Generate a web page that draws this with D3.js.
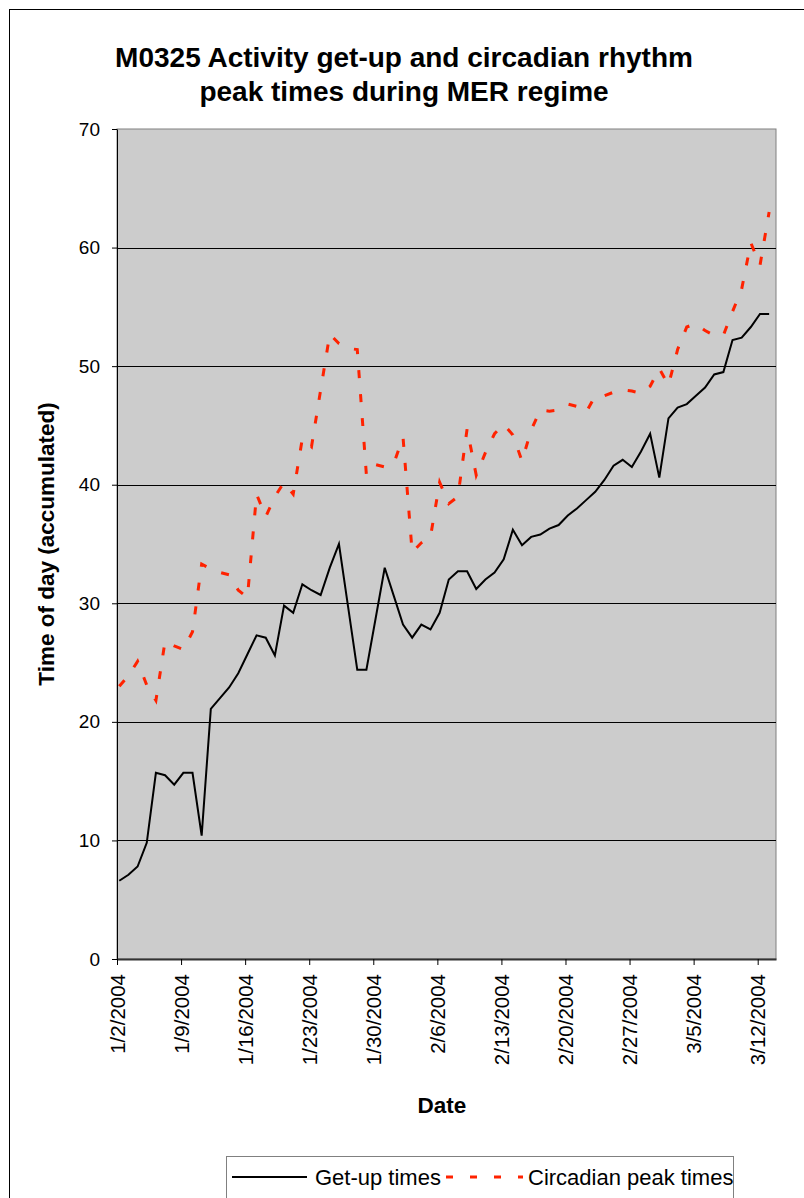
<!DOCTYPE html>
<html>
<head>
<meta charset="utf-8">
<script src="https://cdn.jsdelivr.net/npm/d3@7"></script>
<style>
  body { margin: 0; background: #fff; }
  text { font-family: "Liberation Sans", Arial, sans-serif; }
</style>
</head>
<body>
<svg id="chart" width="804" height="1198"></svg>
<script>
// data, one value per day from 1/2/2004
const startDate = new Date(2004, 0, 2);
const endDate = new Date(2004, 2, 14);
const getUpTimes = [6.6,7.1,7.8,9.8,15.7,15.5,14.7,15.7,15.7,10.4,
  21.1,22.0,22.9,24.1,25.7,27.3,27.1,25.6,29.8,29.2,
  31.6,31.1,30.7,33.0,35.0,29.7,24.4,24.4,28.7,33.0,
  30.6,28.2,27.1,28.2,27.8,29.2,32.0,32.7,32.7,31.2,
  32.0,32.6,33.7,36.2,34.9,35.6,35.8,36.3,36.6,37.4,
  38.0,38.7,39.4,40.4,41.6,42.1,41.5,42.8,44.3,40.6,
  45.6,46.5,46.8,47.5,48.2,49.3,49.5,52.2,52.4,53.3,
  54.4,54.4];
const peakTimes = [23.0,23.9,25.1,23.1,21.8,26.8,26.4,26.1,27.6,33.3,
  32.9,32.6,32.4,31.1,30.5,39.2,37.3,39.0,40.2,39.2,
  43.9,43.2,48.0,52.7,51.9,51.5,51.4,40.8,41.7,41.5,
  41.8,44.0,34.3,35.1,35.6,40.2,38.4,39.0,44.7,40.8,
  42.7,44.3,45.1,44.2,42.0,44.6,46.3,46.2,46.3,46.8,
  46.6,46.1,47.5,47.5,47.8,48.0,47.9,47.7,48.3,49.8,
  48.4,51.4,53.3,53.6,53.0,52.6,52.6,54.6,56.5,60.4,
  58.5,63.0];
const yTicks = [0, 10, 20, 30, 40, 50, 60, 70];
const seriesNames = ["Get-up times", "Circadian peak times"];

const days = d3.timeDay.range(startDate, d3.timeDay.offset(startDate, getUpTimes.length));

const svg = d3.select("#chart");
const plotLeft = 117, plotRight = 776, plotTop = 129, plotBottom = 959;

// outer chart frame
svg.append("rect")
  .attr("x", 9.5).attr("y", 9.5)
  .attr("width", 900).attr("height", 1300)
  .attr("fill", "#fff").attr("stroke", "#000").attr("stroke-width", 1);

const x = d3.scaleTime().domain([startDate, endDate]).range([plotLeft, plotRight]);
const y = d3.scaleLinear().domain([0, 70]).range([plotBottom, plotTop]);

// plot area
svg.append("rect")
  .attr("x", plotLeft).attr("y", plotTop)
  .attr("width", plotRight - plotLeft).attr("height", plotBottom - plotTop)
  .attr("fill", "#cccccc").attr("stroke", "#808080").attr("stroke-width", 1);

// gridlines
svg.append("g")
  .selectAll("line")
  .data(yTicks.filter(d => d > 0 && d < 70))
  .join("line")
  .attr("x1", plotLeft).attr("x2", plotRight)
  .attr("y1", d => Math.round(y(d)) + 0.5).attr("y2", d => Math.round(y(d)) + 0.5)
  .attr("stroke", "#000").attr("stroke-width", 1);

// y axis
const yAxis = svg.append("g")
  .attr("transform", `translate(${plotLeft},0)`)
  .call(d3.axisLeft(y).tickValues(yTicks).tickSize(5).tickSizeOuter(0).tickPadding(12));
yAxis.selectAll("text").attr("font-size", 19).attr("fill", "#000");
yAxis.selectAll("line, path").attr("stroke", "#000");

// x axis, weekly ticks
const weekTicks = d3.timeDay.range(startDate, endDate, 7);
const xAxis = svg.append("g")
  .attr("transform", `translate(0,${plotBottom})`)
  .call(d3.axisBottom(x).tickValues(weekTicks).tickSize(6).tickSizeOuter(0)
    .tickFormat(d3.timeFormat("%-m/%-d/%Y")));
xAxis.select("path").attr("stroke", "#333").attr("stroke-width", 2);
xAxis.selectAll("line").attr("stroke", "#000");
xAxis.selectAll("text")
  .attr("font-size", 20.5).attr("fill", "#000")
  .attr("text-anchor", "end")
  .attr("dy", "0.35em")
  .attr("transform", "translate(0,15) rotate(-90)")
  .attr("x", 0).attr("y", 0);

// series
const line = d3.line()
  .x((d, i) => x(d3.timeHour.offset(days[i], 6)))
  .y(d => y(d));

svg.append("path")
  .datum(getUpTimes)
  .attr("d", line)
  .attr("fill", "none").attr("stroke", "#000").attr("stroke-width", 2);

svg.append("path")
  .datum(peakTimes)
  .attr("d", line)
  .attr("fill", "none").attr("stroke", "#ff2200").attr("stroke-width", 3)
  .attr("stroke-dasharray", "8,16");

// titles
svg.append("text")
  .attr("x", 404).attr("y", 67)
  .attr("text-anchor", "middle")
  .attr("font-size", 28).attr("font-weight", "bold")
  .text("M0325 Activity get-up and circadian rhythm");
svg.append("text")
  .attr("x", 404).attr("y", 101)
  .attr("text-anchor", "middle")
  .attr("font-size", 28).attr("font-weight", "bold")
  .text("peak times during MER regime");

svg.append("text")
  .attr("transform", "translate(54,544) rotate(-90)")
  .attr("text-anchor", "middle")
  .attr("font-size", 22.5).attr("font-weight", "bold")
  .text("Time of day (accumulated)");

svg.append("text")
  .attr("x", 442).attr("y", 1113)
  .attr("text-anchor", "middle")
  .attr("font-size", 22.5).attr("font-weight", "bold")
  .text("Date");

// legend
const legend = svg.append("g");
legend.append("rect")
  .attr("x", 226.5).attr("y", 1156.5)
  .attr("width", 507).attr("height", 42)
  .attr("fill", "#fff").attr("stroke", "#808080").attr("stroke-width", 1);
legend.append("line")
  .attr("x1", 232).attr("x2", 307).attr("y1", 1177).attr("y2", 1177)
  .attr("stroke", "#000").attr("stroke-width", 2);
legend.append("text")
  .attr("x", 315).attr("y", 1185)
  .attr("font-size", 22)
  .text(seriesNames[0]);
legend.append("line")
  .attr("x1", 446).attr("x2", 523).attr("y1", 1177).attr("y2", 1177)
  .attr("stroke", "#ff2200").attr("stroke-width", 3)
  .attr("stroke-dasharray", "7,17");
legend.append("text")
  .attr("x", 528).attr("y", 1185)
  .attr("font-size", 22)
  .text(seriesNames[1]);
</script>
</body>
</html>
